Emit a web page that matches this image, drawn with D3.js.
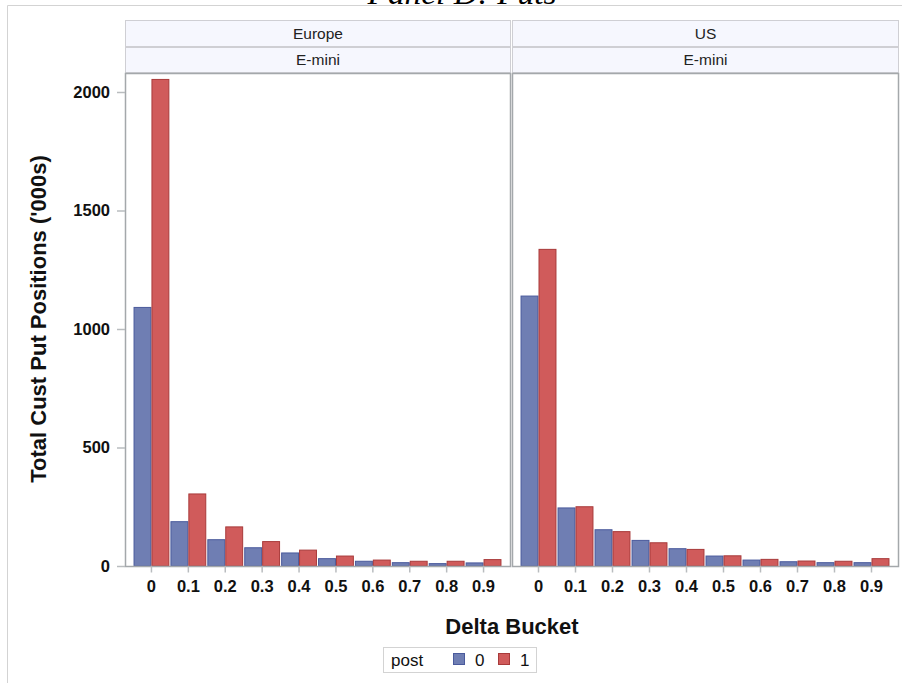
<!DOCTYPE html>
<html>
<head>
<meta charset="utf-8">
<script src="https://cdn.jsdelivr.net/npm/d3@7"></script>
<style>
  html, body { margin: 0; padding: 0; background: #fff; }
  svg { display: block; }
</style>
</head>
<body>
<svg id="chart" width="902" height="683"></svg>
<script>
// Delta buckets on the x axis
const buckets = ["0", "0.1", "0.2", "0.3", "0.4", "0.5", "0.6", "0.7", "0.8", "0.9"];
// Panel headers
const regions = ["Europe", "US"];
const product = "E-mini";
// Groups in the legend (post = 0 / 1)
const postGroups = ["0", "1"];
// Total customer put positions ('000s), by region, post group, bucket
const europePost0 = [1091, 187, 111, 77, 55, 31, 20, 14, 10, 13];
const europePost1 = [2053, 304, 165, 103, 67, 42, 25, 20, 20, 27];
const usPost0 = [1139, 245, 153, 108, 73, 42, 25, 18, 14, 14];
const usPost1 = [1336, 250, 145, 98, 70, 43, 28, 21, 20, 31];
const yTicks = [0, 500, 1000, 1500, 2000];

const panelValues = [
  [europePost0, europePost1],
  [usPost0, usPost1]
];

const svg = d3.select("#chart");
const fill = ["#6f7eb3", "#d05b5b"];
const stroke = ["#4a5a9c", "#a83a3a"];
const sans = "'Liberation Sans', Arial, sans-serif";

const plotTop = 73, plotBottom = 566;
const panelX = [[125, 511], [512, 899]];

// Outer frame
svg.append("path")
  .attr("d", "M7.5,683 V5.5 H902")
  .attr("fill", "none").attr("stroke", "#d3d3d3");

// Title
svg.append("text")
  .attr("x", 462).attr("y", 4)
  .attr("text-anchor", "middle")
  .attr("font-family", "'Liberation Serif', 'DejaVu Serif', serif")
  .attr("font-style", "italic")
  .attr("font-size", 32)
  .attr("textLength", 189)
  .attr("lengthAdjust", "spacingAndGlyphs")
  .attr("fill", "#000")
  .text("Panel D: Puts");

const y = d3.scaleLinear().domain([0, 2000]).range([plotBottom, 92]);

regions.forEach((region, p) => {
  const [x0, x1] = panelX[p];
  const g = svg.append("g");

  // Header strips
  [[20, 46, region], [47, 72, product]].forEach(([t, b, label]) => {
    g.append("rect")
      .attr("x", x0 + 0.5).attr("y", t + 0.5)
      .attr("width", x1 - x0 - 1).attr("height", b - t)
      .attr("fill", "#f6f7fe").attr("stroke", "#cfcfd4");
    g.append("text")
      .attr("x", (x0 + x1) / 2).attr("y", (t + b) / 2 + 5.5)
      .attr("text-anchor", "middle")
      .attr("font-family", sans)
      .attr("font-size", 15.5).attr("fill", "#222")
      .text(label);
  });

  const x = d3.scaleBand().domain(buckets).range([x0 + 8, x1 - 9]).padding(0);
  const inner = d3.scaleBand().domain(postGroups).range([0, x.bandwidth()]).paddingInner(0).paddingOuter(0.03);

  // Bars
  postGroups.forEach((grp, k) => {
    g.selectAll(null)
      .data(panelValues[p][k])
      .enter().append("rect")
      .attr("x", (d, i) => x(buckets[i]) + inner(grp) + 0.5)
      .attr("y", d => y(d))
      .attr("width", inner.bandwidth() - 1)
      .attr("height", d => y(0) - y(d))
      .attr("fill", fill[k])
      .attr("stroke", stroke[k])
      .attr("stroke-width", 1);
  });

  // Panel frame
  g.append("rect")
    .attr("x", x0 + 0.5).attr("y", plotTop + 0.5)
    .attr("width", x1 - x0 - 1).attr("height", plotBottom - plotTop)
    .attr("fill", "none").attr("stroke", "#a4a8ab").attr("stroke-width", 1.5);

  // X axis
  const xAxis = g.append("g")
    .attr("transform", `translate(0,${plotBottom + 0.5})`)
    .call(d3.axisBottom(x).tickSize(6).tickPadding(8));
  xAxis.select(".domain").remove();
  xAxis.selectAll(".tick line").attr("stroke", "#b9bcbf").attr("stroke-width", 1.5);
  xAxis.selectAll(".tick text")
    .attr("font-family", sans)
    .attr("font-size", 16.5).attr("font-weight", "bold").attr("fill", "#111");
});

// Y axis
const yAxis = svg.append("g")
  .attr("transform", "translate(125,0)")
  .call(d3.axisLeft(y).tickValues(yTicks).tickFormat(d3.format("d")).tickSize(8).tickPadding(7));
yAxis.select(".domain").remove();
yAxis.selectAll(".tick line").attr("stroke", "#b9bcbf").attr("stroke-width", 1.5);
yAxis.selectAll(".tick text")
  .attr("font-family", sans)
  .attr("font-size", 16.5).attr("font-weight", "bold").attr("fill", "#111");

// Axis titles
svg.append("text")
  .attr("transform", "translate(46,319) rotate(-90)")
  .attr("text-anchor", "middle")
  .attr("font-family", sans)
  .attr("font-size", 22).attr("font-weight", "bold").attr("fill", "#111")
  .text("Total Cust Put Positions ('000s)");

svg.append("text")
  .attr("x", 512).attr("y", 634)
  .attr("text-anchor", "middle")
  .attr("font-family", sans)
  .attr("font-size", 22).attr("font-weight", "bold").attr("fill", "#111")
  .text("Delta Bucket");

// Legend
const lg = svg.append("g");
lg.append("rect")
  .attr("x", 383.5).attr("y", 647.5).attr("width", 153).attr("height", 25)
  .attr("fill", "#fff").attr("stroke", "#d3d3d3");
lg.append("text")
  .attr("x", 391).attr("y", 666)
  .attr("font-family", sans)
  .attr("font-size", 17).attr("fill", "#111").text("post");
postGroups.forEach((grp, k) => {
  const lx = 453 + k * 45;
  lg.append("rect")
    .attr("x", lx + 0.5).attr("y", 653.5).attr("width", 11).attr("height", 11)
    .attr("fill", fill[k]).attr("stroke", stroke[k]);
  lg.append("text")
    .attr("x", lx + 22).attr("y", 666)
    .attr("font-family", sans)
    .attr("font-size", 17).attr("fill", "#111").text(grp);
});
</script>
</body>
</html>
